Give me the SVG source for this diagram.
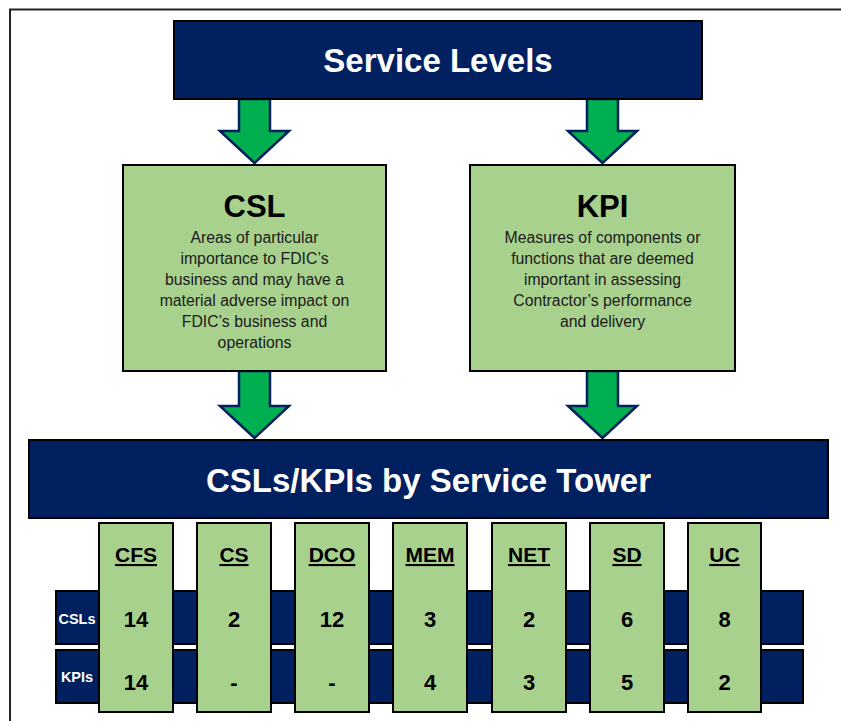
<svg xmlns="http://www.w3.org/2000/svg" width="841" height="721" viewBox="0 0 841 721">
  <style>
    .navy { fill: #002060; stroke: #000; stroke-width: 2; }
    .green { fill: #A9D18E; stroke: #000; stroke-width: 2; }
    .arrow { fill: #00B050; stroke: #002060; stroke-width: 2.5; stroke-linejoin: miter; }
    text { font-family: "Liberation Sans", Arial, sans-serif; text-anchor: middle; }
    .title-w { fill: #fff; font-weight: bold; font-size: 33px; }
    .title-k { fill: #000; font-weight: bold; font-size: 31px; }
    .body { fill: #1a1a1a; font-size: 15.8px; }
    .col-head { fill: #000; font-weight: bold; font-size: 21px; text-decoration: underline; }
    .num { fill: #000; font-weight: bold; font-size: 22px; }
    .row-label { fill: #fff; font-weight: bold; font-size: 14.5px; }
  </style>

  <rect width="841" height="721" fill="#fff"/>
  <!-- page frame -->
  <path d="M 10 721 L 10 9.5 L 841 9.5" fill="none" stroke="#222" stroke-width="2"/>

  <!-- connectors: block arrows between the levels -->
  <g id="connectors">
    <path class="arrow" d="M 239 99 L 270 99 L 270 131 L 289 131 L 254.5 163 L 220 131 L 239 131 Z"/>
    <path class="arrow" d="M 587 99 L 618 99 L 618 131 L 637 131 L 602.5 163 L 568 131 L 587 131 Z"/>
    <path class="arrow" d="M 239 371 L 270 371 L 270 406 L 289 406 L 254.5 438 L 220 406 L 239 406 Z"/>
    <path class="arrow" d="M 587 371 L 618 371 L 618 406 L 637 406 L 602.5 438 L 568 406 L 587 406 Z"/>
  </g>

  <g id="service-levels">
    <rect class="navy" x="174" y="21" width="528" height="78"/>
    <text class="title-w" x="438" y="72">Service Levels</text>
  </g>

  <g id="csl">
    <rect class="green" x="123" y="165" width="263" height="206"/>
    <text class="title-k" x="254.5" y="217">CSL</text>
    <text class="body" x="254.5" y="243">Areas of particular</text>
    <text class="body" x="254.5" y="264">importance to FDIC’s</text>
    <text class="body" x="254.5" y="285">business and may have a</text>
    <text class="body" x="254.5" y="306">material adverse impact on</text>
    <text class="body" x="254.5" y="327">FDIC’s business and</text>
    <text class="body" x="254.5" y="348">operations</text>
  </g>

  <g id="kpi">
    <rect class="green" x="470" y="165" width="265" height="206"/>
    <text class="title-k" x="602.5" y="217">KPI</text>
    <text class="body" x="602.5" y="243">Measures of components or</text>
    <text class="body" x="602.5" y="264">functions that are deemed</text>
    <text class="body" x="602.5" y="285">important in assessing</text>
    <text class="body" x="602.5" y="306">Contractor’s performance</text>
    <text class="body" x="602.5" y="327">and delivery</text>
  </g>

  <g id="service-tower">
    <rect class="navy" x="29" y="440" width="799" height="78"/>
    <text class="title-w" x="428.5" y="492">CSLs/KPIs by Service Tower</text>
  </g>

  <!-- metric rows behind the tower columns -->
  <g id="row-csls">
    <rect class="navy" x="56" y="591" width="747" height="53"/>
    <text class="row-label" x="77" y="624">CSLs</text>
  </g>
  <g id="row-kpis">
    <rect class="navy" x="56" y="650" width="747" height="53"/>
    <text class="row-label" x="77" y="682">KPIs</text>
  </g>

  <g id="tower-cfs">
    <rect class="green" x="99" y="523" width="74" height="189"/>
    <text class="col-head" x="136" y="562">CFS</text>
    <text class="num" x="136" y="627">14</text>
    <text class="num" x="136" y="690">14</text>
  </g>
  <g id="tower-cs">
    <rect class="green" x="197" y="523" width="74" height="189"/>
    <text class="col-head" x="234" y="562">CS</text>
    <text class="num" x="234" y="627">2</text>
    <text class="num" x="234" y="690">-</text>
  </g>
  <g id="tower-dco">
    <rect class="green" x="295" y="523" width="74" height="189"/>
    <text class="col-head" x="332" y="562">DCO</text>
    <text class="num" x="332" y="627">12</text>
    <text class="num" x="332" y="690">-</text>
  </g>
  <g id="tower-mem">
    <rect class="green" x="393" y="523" width="74" height="189"/>
    <text class="col-head" x="430" y="562">MEM</text>
    <text class="num" x="430" y="627">3</text>
    <text class="num" x="430" y="690">4</text>
  </g>
  <g id="tower-net">
    <rect class="green" x="492" y="523" width="74" height="189"/>
    <text class="col-head" x="529" y="562">NET</text>
    <text class="num" x="529" y="627">2</text>
    <text class="num" x="529" y="690">3</text>
  </g>
  <g id="tower-sd">
    <rect class="green" x="590" y="523" width="74" height="189"/>
    <text class="col-head" x="627" y="562">SD</text>
    <text class="num" x="627" y="627">6</text>
    <text class="num" x="627" y="690">5</text>
  </g>
  <g id="tower-uc">
    <rect class="green" x="688" y="523" width="73" height="189"/>
    <text class="col-head" x="724.5" y="562">UC</text>
    <text class="num" x="724.5" y="627">8</text>
    <text class="num" x="724.5" y="690">2</text>
  </g>
</svg>
